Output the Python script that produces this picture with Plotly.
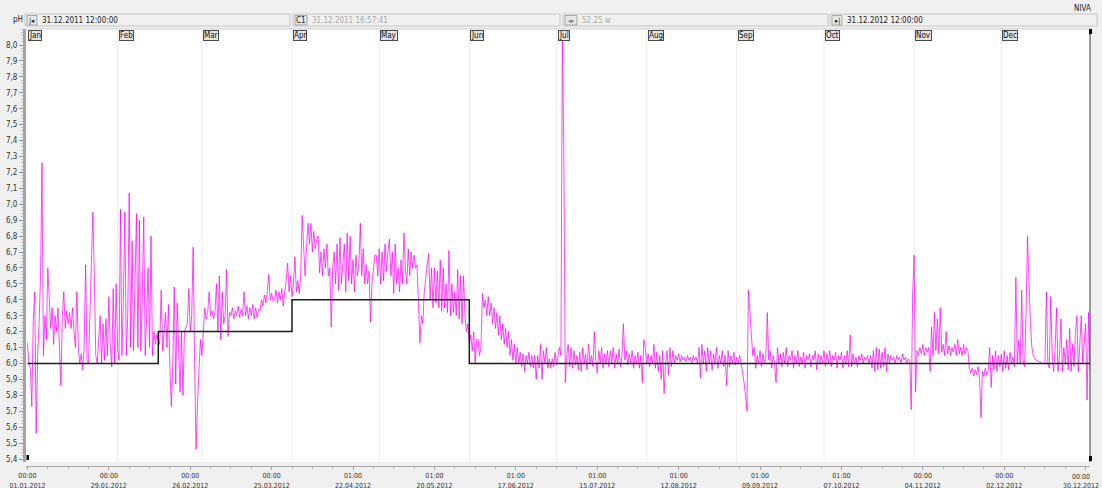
import pandas as pd
import plotly.graph_objects as go

# ---- pH readings, logged every 12 hours from 01.01.2012 00:00 ----
SAMPLE_START = "2012-01-01 00:00"
SAMPLE_STEP = "12h"

ph_jan_feb = [
    6.13, 6.0, 5.97, 5.73, 6.27, 6.45, 5.56, 6.05, 6.25, 6.55,
    7.26, 6.05, 6.3, 6.15, 6.6, 6.42, 6.22, 6.35, 6.12, 6.3,
    6.2, 6.35, 6.05, 5.86, 6.3, 6.45, 6.22, 6.33, 6.25, 6.32,
    6.22, 6.35, 6.2, 6.1, 6.45, 6.1, 6.0, 6.06, 5.96, 6.1,
    6.62, 6.02, 6.0, 6.3, 6.5, 6.95, 6.55, 6.05, 6.0, 6.2,
    6.3, 6.0, 6.25, 6.02, 6.28, 6.05, 6.42, 6.1, 5.98, 6.47,
    6.0, 6.5, 6.1, 6.02, 6.97, 6.05, 6.4, 6.95, 6.05, 6.3,
    7.07, 6.1, 6.77, 6.08, 6.5, 6.94, 6.1, 6.9, 6.08, 6.4,
    6.92, 6.05, 6.3, 6.6, 6.1, 6.8, 6.05, 6.2, 6.12, 6.18,
    6.15, 6.12, 6.46, 6.08, 6.2, 6.32, 6.1, 6.37, 5.98, 5.73,
    6.0, 6.48, 5.87, 6.38, 6.1, 5.82, 6.2, 5.8, 6.2, 6.22,
    6.25, 6.47, 6.2, 6.3, 6.73, 6.0, 5.46, 5.75, 5.95, 6.15,
]
ph_mar_apr = [
    6.05, 6.2, 6.35, 6.28, 6.32, 6.45, 6.3, 6.33, 6.28, 6.32,
    6.5, 6.2, 6.55, 6.15, 6.45, 6.25, 6.3, 6.59, 6.17, 6.32,
    6.3, 6.35, 6.28, 6.33, 6.3, 6.36, 6.29, 6.34, 6.3, 6.45,
    6.3, 6.36, 6.28, 6.35, 6.3, 6.37, 6.28, 6.35, 6.29, 6.34,
    6.33, 6.4, 6.36, 6.43, 6.38, 6.45, 6.56, 6.4, 6.44, 6.39,
    6.4, 6.46, 6.38, 6.45, 6.4, 6.47, 6.36, 6.45, 6.52, 6.63,
    6.45, 6.55, 6.42, 6.5, 6.67, 6.45, 6.52, 6.44, 6.55, 6.93,
    6.7, 6.55, 6.73, 6.88, 6.75, 6.88, 6.7, 6.83, 6.72, 6.78,
    6.8, 6.57, 6.7, 6.55, 6.72, 6.6, 6.75, 6.55, 6.6, 6.23,
    6.6, 6.7, 6.5, 6.75, 6.46, 6.79, 6.5, 6.62, 6.75, 6.45,
    6.82, 6.52, 6.8, 6.5, 6.65, 6.45, 6.68, 6.55, 6.62, 6.88,
    6.55, 6.72, 6.5, 6.62, 6.5, 6.58, 6.26, 6.5, 6.6, 6.68,
]
ph_may_jun = [
    6.68, 6.55, 6.72, 6.5, 6.7, 6.52, 6.75, 6.58, 6.7, 6.78,
    6.55, 6.7, 6.44, 6.75, 6.5, 6.6, 6.45, 6.65, 6.5, 6.82,
    6.6, 6.5, 6.72, 6.55, 6.7, 6.6, 6.68, 6.6, 6.62, 6.36,
    6.13, 6.3, 6.25, 6.45, 6.55, 6.62, 6.69, 6.4, 6.6, 6.35,
    6.6, 6.38, 6.58, 6.35, 6.65, 6.33, 6.6, 6.35, 6.5, 6.32,
    6.71, 6.3, 6.5, 6.32, 6.45, 6.3, 6.59, 6.28, 6.55, 6.25,
    6.55, 6.3, 6.2, 6.25, 6.12, 6.18, 6.08, 6.2, 6.0, 6.15,
    6.15, 6.05, 6.1, 6.44, 6.35, 6.4, 6.3, 6.42, 6.3, 6.38,
    6.25, 6.35, 6.22, 6.32, 6.18, 6.3, 6.15, 6.25, 6.12, 6.22,
    6.1, 6.2, 6.05, 6.15, 6.02, 6.12, 6.0, 6.1, 6.0, 6.07,
    5.98, 6.06, 5.95, 6.05, 6.0, 6.07, 5.98, 6.05, 5.97, 6.05,
    5.9, 6.05, 5.97, 6.12, 5.9, 6.08, 6.0, 6.1, 5.97, 6.03,
]
ph_jul_aug = [
    5.97, 6.03, 5.98, 6.07, 5.99, 6.06, 6.1, 6.05, 8.05, 7.36,
    5.88, 6.05, 6.12, 5.98, 6.1, 5.97, 6.08, 5.99, 6.05, 5.96,
    6.07, 5.95, 6.1, 6.0, 6.06, 5.96, 6.12, 6.0, 6.05, 5.98,
    6.2, 6.02, 5.94, 6.08, 6.0, 6.1, 5.97, 6.06, 6.0, 6.08,
    5.98, 6.08, 6.0, 6.1, 5.97, 6.06, 6.0, 6.09, 5.98, 6.05,
    6.25, 6.02, 6.08, 5.99, 6.06, 6.0, 6.08, 5.97, 6.05, 6.0,
    6.07, 5.97, 6.05, 5.88, 6.15, 6.1, 6.0, 6.06, 5.98, 6.05,
    6.0, 6.12, 5.97, 6.07, 5.95, 6.05, 5.9, 6.08, 5.81, 6.0,
    6.08, 5.93, 6.1, 5.98, 6.08, 6.0, 6.05, 6.02, 6.06, 6.01,
    6.05, 6.02, 6.04, 6.01, 6.05, 6.02, 6.04, 6.0, 6.05, 6.02,
    6.04, 6.0, 6.1, 5.91, 6.12, 6.0, 6.08, 5.95, 6.1, 6.0,
    6.08, 5.96, 6.06, 6.0, 6.1, 5.97, 6.05, 6.0, 6.08, 5.98,
]
ph_sep_oct = [
    6.05, 5.86, 6.08, 5.98, 6.05, 6.0, 6.07, 5.99, 6.04, 6.0,
    6.05, 6.0, 5.95, 5.88, 5.8, 5.7, 6.46, 6.3, 6.22, 6.05,
    6.1, 5.97, 6.05, 6.0, 6.08, 5.98, 6.06, 6.0, 6.05, 6.32,
    6.02, 6.08, 5.97, 6.05, 6.0, 5.88, 6.1, 6.0, 6.06, 5.98,
    6.07, 6.0, 6.1, 5.98, 6.05, 6.02, 6.08, 5.97, 6.05, 6.0,
    6.08, 5.98, 6.04, 6.0, 6.07, 5.97, 6.05, 6.02, 6.06, 5.98,
    6.05, 6.02, 6.08, 5.96, 6.06, 6.0, 6.05, 6.0, 6.08, 5.98,
    6.06, 6.0, 6.08, 5.98, 6.05, 6.02, 6.07, 5.97, 6.05, 6.02,
    6.07, 5.97, 6.05, 6.0, 6.08, 5.98, 6.18, 5.98, 6.06, 6.0,
    6.04, 5.98, 6.05, 6.02, 6.06, 6.0, 6.04, 6.02, 6.05, 6.0,
    6.05, 5.97, 6.08, 5.95, 6.1, 5.96, 6.09, 5.97, 6.07, 5.98,
    6.1, 5.95, 6.06, 6.0, 6.05, 6.02, 6.04, 6.0, 6.05, 6.02,
]
ph_nov_dec = [
    6.04, 6.0, 6.06, 6.02, 6.04, 6.0, 6.03, 6.02, 5.71, 6.43,
    6.68, 5.82, 6.08, 6.05, 6.1, 6.06, 6.12, 6.05, 6.1, 6.07,
    6.1, 5.95, 6.23, 6.05, 6.32, 6.08, 6.28, 6.06, 6.35, 6.07,
    6.12, 6.05, 6.2, 6.06, 6.11, 6.05, 6.1, 6.07, 6.12, 6.05,
    6.15, 6.06, 6.1, 6.05, 6.12, 6.06, 6.1, 6.08, 5.97, 5.94,
    5.97, 5.92, 5.96, 5.93, 5.98, 5.91, 5.66, 5.95, 5.92, 5.97,
    5.93, 5.96, 6.1, 5.85, 6.05, 5.96, 6.08, 5.95, 6.05, 5.98,
    6.06, 5.95, 6.08, 5.97, 6.05, 5.96, 6.07, 6.0, 6.04, 5.98,
    6.54, 6.0, 6.15, 6.0, 6.46, 6.02, 5.98, 6.3, 6.8, 6.5,
    6.25, 6.1, 6.05, 6.03, 6.02, 6.02, 6.01, 6.01, 6.0, 6.0,
    6.0, 6.45, 6.0, 5.97, 6.42, 6.05, 5.95, 6.1, 6.35, 5.95,
    6.05, 6.28, 5.95, 6.1, 6.0, 6.15, 5.96, 6.22, 5.95, 6.12,
    5.98, 6.2, 6.3, 5.95, 6.15, 6.3, 6.0, 6.1, 6.25, 5.77, 6.32, 5.95,
]

# ---- pH set point (step changes) ----
SETPOINT_TIMES = ["2012-01-01 00:00", "2012-02-15 00:00", "2012-04-01 00:00",
                  "2012-06-01 00:00", "2012-12-31 12:00"]
SETPOINT_PH = [6.0, 6.2, 6.4, 6.0, 6.0]

# ---- axis labelling ----
Y_TICK_VALUES = [5.4, 5.5, 5.6, 5.7, 5.8, 5.9, 6.0, 6.1, 6.2, 6.3, 6.4, 6.5, 6.6, 6.7,
                 6.8, 6.9, 7.0, 7.1, 7.2, 7.3, 7.4, 7.5, 7.6, 7.7, 7.8, 7.9, 8.0]
X_TICK_DATES = ["2012-01-01", "2012-01-29", "2012-02-26", "2012-03-25", "2012-04-22",
                "2012-05-20", "2012-06-17", "2012-07-15", "2012-08-12", "2012-09-09",
                "2012-10-07", "2012-11-04", "2012-12-02", "2012-12-30"]
X_TICK_CLOCK = ["00:00", "00:00", "00:00", "00:00", "01:00", "01:00", "01:00",
                "01:00", "01:00", "01:00", "01:00", "00:00", "00:00", "00:00"]
MONTH_STARTS = ["2012-01-01", "2012-02-01", "2012-03-01", "2012-04-01", "2012-05-01",
                "2012-06-01", "2012-07-01", "2012-08-01", "2012-09-01", "2012-10-01",
                "2012-11-01", "2012-12-01"]
MONTH_NAMES = ["Jan", "Feb", "Mar", "Apr", "May", "Jun", "Jul", "Aug", "Sep", "Oct", "Nov", "Dec"]

VIEW_START = "2011-12-31 12:00"
VIEW_END = "2012-12-31 12:00"
CURSOR_TIME = "31.12.2011 16:57:41"
SPAN_TEXT = "52.25 w"

ph_values = ph_jan_feb + ph_mar_apr + ph_may_jun + ph_jul_aug + ph_sep_oct + ph_nov_dec
sample_times = pd.date_range(SAMPLE_START, periods=len(ph_values), freq=SAMPLE_STEP)

# ---- page geometry ----
FIG_W, FIG_H = 1102, 488
ML, MR, MT, MB = 26, 12, 29, 22
PW, PH = FIG_W - ML - MR, FIG_H - MT - MB
Y_DOMAIN0 = 4 / PH
FONT = "Liberation Sans Narrow, DejaVu Sans Condensed, Arial, sans-serif"


def fx(p):
    return (p - ML) / PW


def fy(p):
    return (FIG_H - MB - p) / PH


fig = go.Figure()
fig.add_trace(go.Scatter(
    x=sample_times, y=ph_values, mode="lines",
    line=dict(color="rgba(255,0,255,0.72)", width=1),
    hoverinfo="skip", showlegend=False,
))
fig.add_trace(go.Scatter(
    x=pd.to_datetime(SETPOINT_TIMES, format="ISO8601"), y=SETPOINT_PH, mode="lines",
    line=dict(color="#1c1c1c", width=1.5, shape="hv"),
    hoverinfo="skip", showlegend=False,
))

shapes = []
# month grid lines
for m in MONTH_STARTS[1:]:
    shapes.append(dict(type="line", xref="x", yref="paper", x0=m, x1=m,
                       y0=Y_DOMAIN0, y1=1, line=dict(color="#ececec", width=1), layer="below"))
# plot frame pieces
shapes.append(dict(type="line", xref="paper", yref="paper", x0=0, x1=1, y0=1, y1=1,
                   line=dict(color="#cfcfcf", width=1)))
shapes.append(dict(type="line", xref="paper", yref="paper", x0=1, x1=1, y0=Y_DOMAIN0, y1=1,
                   line=dict(color="#3a3a3a", width=1)))
for (x0, x1, y0, y1) in [(1089, 1092, 29, 34), (1089, 1092, 456, 461), (26.5, 29, 455, 460)]:
    shapes.append(dict(type="rect", xref="paper", yref="paper", x0=fx(x0), x1=fx(x1),
                       y0=fy(y1), y1=fy(y0), fillcolor="#000000", line=dict(width=0)))

# toolbar fields
FIELDS = [(25, 290), (293, 560), (563, 828), (830, 1097)]
BUTTONS = [(27, 37), (295, 307), (565, 577), (832, 842)]
for (a, b) in FIELDS:
    shapes.append(dict(type="rect", xref="paper", yref="paper", x0=fx(a), x1=fx(b),
                       y0=fy(26), y1=fy(14), fillcolor="#f0f0f0",
                       line=dict(color="#c6c6c6", width=1)))
for (a, b) in BUTTONS:
    shapes.append(dict(type="rect", xref="paper", yref="paper", x0=fx(a), x1=fx(b),
                       y0=fy(25), y1=fy(15.5), fillcolor="#e6e6e6",
                       line=dict(color="#a8a8a8", width=1)))

annotations = []


def text_at(x, y, s, color="#222222", size=8, anchor="left"):
    annotations.append(dict(xref="paper", yref="paper", x=fx(x), y=fy(y), text=s,
                            showarrow=False, xanchor=anchor, yanchor="middle",
                            font=dict(family=FONT, size=size, color=color)))


text_at(11, 20, "pH", size=8)
text_at(1093, 8, "NIVA", size=8, anchor="right")
text_at(32, 20.5, "|◂", size=7, anchor="center")
text_at(40, 20.5, "31.12.2011 12:00:00")
text_at(301, 20.5, "C1", size=8, anchor="center")
text_at(310, 20.5, CURSOR_TIME, color="#a8a8a8")
text_at(571, 20.5, "◂▸", size=7, color="#888888", anchor="center")
text_at(580, 20.5, SPAN_TEXT, color="#a8a8a8")
text_at(837, 20.5, "▸|", size=7, anchor="center")
text_at(845, 20.5, "31.12.2012 12:00:00")

# month tags along the top of the plot
for m, name in zip(MONTH_STARTS, MONTH_NAMES):
    annotations.append(dict(xref="x", yref="paper", x=m, y=fy(29.5), text=name,
                            showarrow=False, xanchor="left", yanchor="top", xshift=1,
                            bgcolor="#e4e4e4", bordercolor="#4a4a4a", borderwidth=1,
                            borderpad=0, font=dict(family=FONT, size=8, color="#111111")))

# date labels under the time axis; the last one is pinned inside the page edge
x_tick_text = [f"{c}<br>{pd.Timestamp(d).strftime('%d.%m.%Y')}"
               for c, d in zip(X_TICK_CLOCK, X_TICK_DATES)]
axis_text = x_tick_text[:-1] + [""]
annotations.append(dict(xref="paper", yref="paper", x=fx(1101), y=fy(470.8), text=x_tick_text[-1],
                        showarrow=False, xanchor="right", yanchor="top", align="center",
                        font=dict(family=FONT, size=7, color="#333333")))

fig.update_layout(
    width=FIG_W, height=FIG_H,
    margin=dict(l=ML, r=MR, t=MT, b=MB, pad=0, autoexpand=False),
    paper_bgcolor="#f0f0f0", plot_bgcolor="#ffffff",
    showlegend=False,
    shapes=shapes, annotations=annotations,
    xaxis=dict(
        type="date", range=[VIEW_START, VIEW_END], anchor="free", position=0,
        automargin=False, ticklabeloverflow="allow",
        showgrid=False, zeroline=False,
        showline=True, linecolor="#a8a8a8", linewidth=1,
        ticks="outside", ticklen=3, tickcolor="#a8a8a8",
        tickvals=pd.to_datetime(X_TICK_DATES),
        ticktext=axis_text,
        tickfont=dict(family=FONT, size=7, color="#333333"),
        minor=dict(ticks="outside", ticklen=2, tickcolor="#b8b8b8",
                   tick0="2012-01-01", dtick=7 * 86400000, showgrid=False),
    ),
    yaxis=dict(
        range=[5.3812, 8.1005], domain=[Y_DOMAIN0, 1], anchor="x",
        automargin=False,
        showgrid=False, zeroline=False,
        showline=True, linecolor="#a4a4a4", linewidth=3,
        ticks="outside", ticklen=4, tickcolor="#8c8c8c",
        tickvals=Y_TICK_VALUES,
        ticktext=[f"{v:.1f}".replace(".", ",") for v in Y_TICK_VALUES],
        tickfont=dict(family=FONT, size=8, color="#333333"),
        minor=dict(ticks="outside", ticklen=2, tickcolor="#c4c4c4", dtick=0.02, showgrid=False),
    ),
)

fig.write_html("out.html")
